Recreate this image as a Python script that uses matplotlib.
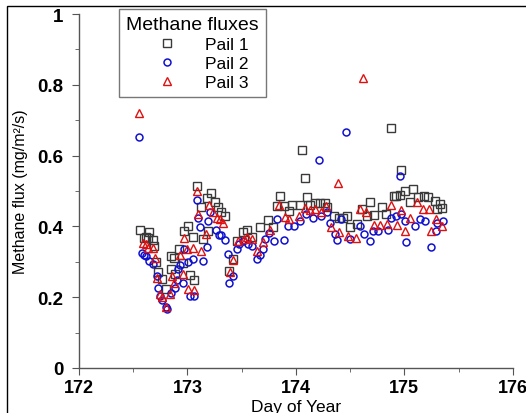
import matplotlib
matplotlib.use("Agg")
import matplotlib.pyplot as plt
from matplotlib.patches import Rectangle
from matplotlib.ticker import MultipleLocator, FixedLocator

plt.rcParams["font.family"] = ["Liberation Sans", "DejaVu Sans"]

# ---------------------------------------------------------------------------
# Data
# ---------------------------------------------------------------------------

pail1_day = [172.56, 172.60, 172.62, 172.64, 172.645, 172.68, 172.69, 172.71,
             172.73, 172.77, 172.80, 172.845, 172.85, 172.875, 172.89, 172.92,
             172.955, 172.965, 173.01, 173.02, 173.05, 173.06, 173.09, 173.13,
             173.14, 173.18, 173.19, 173.22, 173.25, 173.28, 173.31, 173.35,
             173.385, 173.42, 173.46, 173.51, 173.55, 173.60, 173.67, 173.745,
             173.79, 173.83, 173.85, 173.89, 173.94, 173.96, 174.04, 174.055,
             174.086, 174.10, 174.13, 174.175, 174.22, 174.27, 174.29, 174.35,
             174.40, 174.43, 174.47, 174.50, 174.56, 174.61, 174.66, 174.68,
             174.72, 174.795, 174.83, 174.88, 174.90, 174.92, 174.96, 174.97,
             175.005, 175.05, 175.08, 175.13, 175.18, 175.22, 175.28, 175.30,
             175.33, 175.35]
pail1_flux = [0.390, 0.367, 0.370, 0.367, 0.383, 0.362, 0.345, 0.300,
              0.272, 0.251, 0.223, 0.279, 0.317, 0.312, 0.265, 0.337,
              0.298, 0.388, 0.400, 0.262, 0.371, 0.249, 0.514, 0.456,
              0.364, 0.481, 0.388, 0.495, 0.470, 0.455, 0.440, 0.430,
              0.274, 0.307, 0.360, 0.383, 0.390, 0.370, 0.397, 0.417,
              0.398, 0.459, 0.487, 0.459, 0.444, 0.460, 0.461, 0.617,
              0.536, 0.482, 0.461, 0.467, 0.467, 0.467, 0.456, 0.430,
              0.423, 0.425, 0.429, 0.398, 0.407, 0.448, 0.430, 0.469,
              0.431, 0.455, 0.435, 0.677, 0.486, 0.486, 0.490, 0.558,
              0.499, 0.468, 0.507, 0.482, 0.486, 0.482, 0.471, 0.450,
              0.464, 0.452]

pail2_day = [172.556, 172.58, 172.60, 172.62, 172.65, 172.685, 172.716, 172.73,
             172.75, 172.77, 172.80, 172.81, 172.845, 172.89, 172.90, 172.915,
             172.93, 172.96, 172.97, 173.01, 173.02, 173.05, 173.06, 173.09,
             173.10, 173.12, 173.14, 173.18, 173.19, 173.21, 173.26, 173.29,
             173.31, 173.35, 173.376, 173.385, 173.42, 173.46, 173.48, 173.51,
             173.56, 173.60, 173.64, 173.67, 173.70, 173.72, 173.75, 173.80,
             173.83, 173.89, 173.93, 173.98, 174.04, 174.095, 174.16, 174.21,
             174.23, 174.285, 174.31, 174.36, 174.38, 174.42, 174.46, 174.50,
             174.59, 174.63, 174.68, 174.71, 174.76, 174.85, 174.88, 174.92,
             174.96, 174.97, 175.01, 175.015, 175.10, 175.14, 175.19, 175.25,
             175.29, 175.30, 175.355]
pail2_flux = [0.652, 0.324, 0.320, 0.317, 0.303, 0.293, 0.260, 0.227,
              0.204, 0.192, 0.171, 0.166, 0.213, 0.227, 0.250, 0.279,
              0.290, 0.241, 0.337, 0.300, 0.204, 0.307, 0.204, 0.476,
              0.423, 0.397, 0.303, 0.342, 0.414, 0.440, 0.390, 0.375,
              0.375, 0.361, 0.322, 0.241, 0.260, 0.336, 0.350, 0.360,
              0.350, 0.345, 0.307, 0.320, 0.336, 0.364, 0.380, 0.359,
              0.422, 0.362, 0.400, 0.400, 0.416, 0.435, 0.425, 0.588,
              0.430, 0.440, 0.410, 0.378, 0.362, 0.422, 0.668, 0.364,
              0.400, 0.378, 0.359, 0.388, 0.388, 0.390, 0.425, 0.430,
              0.543, 0.435, 0.416, 0.355, 0.400, 0.420, 0.415, 0.343,
              0.388, 0.410, 0.416]

pail3_day = [172.556, 172.59, 172.62, 172.64, 172.68, 172.70, 172.716, 172.745,
             172.77, 172.80, 172.84, 172.86, 172.88, 172.93, 172.96, 172.97,
             173.00, 173.005, 173.05, 173.06, 173.09, 173.10, 173.13, 173.17,
             173.20, 173.24, 173.27, 173.30, 173.33, 173.39, 173.42, 173.47,
             173.52, 173.55, 173.60, 173.64, 173.70, 173.76, 173.84, 173.90,
             173.94, 174.03, 174.08, 174.13, 174.18, 174.23, 174.28, 174.32,
             174.39, 174.40, 174.48, 174.55, 174.59, 174.62, 174.65, 174.72,
             174.78, 174.84, 174.88, 174.93, 174.97, 175.01, 175.05, 175.12,
             175.17, 175.23, 175.25, 175.29, 175.35]
pail3_flux = [0.721, 0.354, 0.350, 0.340, 0.340, 0.310, 0.254, 0.208,
              0.200, 0.171, 0.210, 0.260, 0.240, 0.320, 0.265, 0.368,
              0.335, 0.223, 0.340, 0.220, 0.500, 0.435, 0.330, 0.378,
              0.460, 0.440, 0.425, 0.420, 0.410, 0.270, 0.305, 0.360,
              0.365, 0.370, 0.365, 0.330, 0.355, 0.390, 0.460, 0.426,
              0.420, 0.430, 0.452, 0.445, 0.450, 0.440, 0.457, 0.398,
              0.523, 0.384, 0.374, 0.367, 0.448, 0.820, 0.440, 0.405,
              0.405, 0.407, 0.461, 0.405, 0.445, 0.386, 0.425, 0.468,
              0.450, 0.450, 0.386, 0.420, 0.400]

series_labels = ["Pail 1", "Pail 2", "Pail 3"]
x_ticks = [172, 173, 174, 175, 176]
y_ticks = [0, 0.2, 0.4, 0.6, 0.8, 1]
y_tick_labels = ["0", "0.2", "0.4", "0.6", "0.8", "1"]

# ---------------------------------------------------------------------------
# Plot
# ---------------------------------------------------------------------------

fig = plt.figure(figsize=(5.26, 4.14), dpi=100)
ax = fig.add_axes([0.150, 0.1087, 0.825, 0.855])

ax.plot(pail1_day, pail1_flux, ls="none", marker="s", ms=5.5, mfc="none",
        mec="#3a3a3a", mew=1.0, label=series_labels[0])
ax.plot(pail2_day, pail2_flux, ls="none", marker="o", ms=5, mfc="none",
        mec="#1010d0", mew=1.1, label=series_labels[1])
ax.plot(pail3_day, pail3_flux, ls="none", marker="^", ms=5.5, mfc="none",
        mec="#e01010", mew=1.0, label=series_labels[2])

ax.set_xlim(172, 176)
ax.set_ylim(0, 1)
ax.xaxis.set_major_locator(FixedLocator(x_ticks))
ax.xaxis.set_minor_locator(MultipleLocator(0.5))
ax.yaxis.set_major_locator(FixedLocator(y_ticks))
ax.yaxis.set_minor_locator(MultipleLocator(0.1))
ax.set_xticklabels([str(t) for t in x_ticks], fontweight="bold", fontsize=13)
ax.set_yticklabels(y_tick_labels, fontweight="bold", fontsize=13.5)

for side in ["top", "right"]:
    ax.spines[side].set_visible(False)
for side in ["left", "bottom"]:
    ax.spines[side].set_color("#555555")
    ax.spines[side].set_linewidth(1.0)
ax.tick_params(which="major", direction="out", length=5, color="#555555")
ax.tick_params(axis="y", which="major", pad=6)
ax.tick_params(axis="x", which="major", pad=3)
ax.tick_params(which="minor", direction="out", length=3, color="#555555")

ax.set_xlabel("Day of Year", fontsize=12.5, labelpad=2)
ax.set_ylabel("Methane flux (mg/m²/s)", fontsize=11.5, labelpad=7)

leg = ax.legend(title="Methane fluxes", loc="upper left",
                bbox_to_anchor=(119 / 526, 1 - 10 / 414),
                bbox_transform=fig.transFigure, fontsize=12.5,
                title_fontsize=14, fancybox=False, framealpha=1,
                edgecolor="#777777", borderpad=0.4, labelspacing=0.22,
                handlelength=3.5, handletextpad=0.45, borderaxespad=0,
                markerscale=1.0)
leg.get_frame().set_linewidth(1.0)

# outer frame around the figure (left and top edges visible)
fig.patches.append(Rectangle((7 / 526, -0.05), 1.2, 1.05 - 7 / 414,
                             transform=fig.transFigure, fill=False,
                             edgecolor="black", linewidth=1.0))

fig.savefig("out.png", dpi=100)
